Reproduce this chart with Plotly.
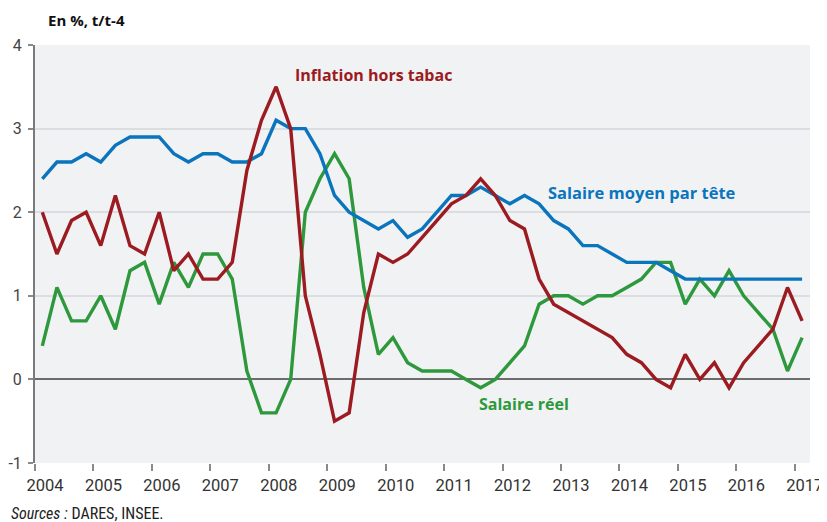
import plotly.graph_objects as go

# ---- data (quarterly, t/t-4, %) ----
years = list(range(2004, 2018))
first_year = 2004
n_quarters = 53  # 2004Q1 .. 2017Q1

salaire_moyen = [2.4, 2.6, 2.6, 2.7, 2.6, 2.8, 2.9, 2.9, 2.9, 2.7, 2.6, 2.7, 2.7, 2.6, 2.6, 2.7,
                 3.1, 3.0, 3.0, 2.7, 2.2, 2.0, 1.9, 1.8, 1.9, 1.7, 1.8, 2.0, 2.2, 2.2, 2.3, 2.2,
                 2.1, 2.2, 2.1, 1.9, 1.8, 1.6, 1.6, 1.5, 1.4, 1.4, 1.4, 1.3, 1.2, 1.2, 1.2, 1.2,
                 1.2, 1.2, 1.2, 1.2, 1.2]
inflation = [2.0, 1.5, 1.9, 2.0, 1.6, 2.2, 1.6, 1.5, 2.0, 1.3, 1.5, 1.2, 1.2, 1.4, 2.5, 3.1,
             3.5, 3.0, 1.0, 0.3, -0.5, -0.4, 0.8, 1.5, 1.4, 1.5, 1.7, 1.9, 2.1, 2.2, 2.4, 2.2,
             1.9, 1.8, 1.2, 0.9, 0.8, 0.7, 0.6, 0.5, 0.3, 0.2, 0.0, -0.1, 0.3, 0.0, 0.2, -0.1,
             0.2, 0.4, 0.6, 1.1, 0.7]
salaire_reel = [0.4, 1.1, 0.7, 0.7, 1.0, 0.6, 1.3, 1.4, 0.9, 1.4, 1.1, 1.5, 1.5, 1.2, 0.1, -0.4,
                -0.4, 0.0, 2.0, 2.4, 2.7, 2.4, 1.1, 0.3, 0.5, 0.2, 0.1, 0.1, 0.1, 0.0, -0.1, 0.0,
                0.2, 0.4, 0.9, 1.0, 1.0, 0.9, 1.0, 1.0, 1.1, 1.2, 1.4, 1.4, 0.9, 1.2, 1.0, 1.3,
                1.0, 0.8, 0.6, 0.1, 0.5]
y_ticks = [-1, 0, 1, 2, 3, 4]

# quarter mid-points
x_q = [first_year + i / 4 + 0.125 for i in range(n_quarters)]

BLUE = "#0a74bd"
RED = "#9b1b21"
GREEN = "#2e983c"

fig = go.Figure()
for name, vals, col in [("Salaire réel", salaire_reel, GREEN),
                        ("Salaire moyen par tête", salaire_moyen, BLUE),
                        ("Inflation hors tabac", inflation, RED)]:
    fig.add_trace(go.Scatter(x=x_q, y=vals, mode="lines", name=name,
                             line=dict(color=col, width=3.4), hoverinfo="skip"))

ann_font = "Open Sans, Noto Sans, sans-serif"
fig.add_annotation(x=2009.80, y=3.64, text="<b>Inflation hors tabac</b>", showarrow=False,
                   font=dict(family=ann_font, size=16, color=RED), xanchor="center", yanchor="middle")
fig.add_annotation(x=2014.38, y=2.23, text="<b>Salaire moyen par tête</b>", showarrow=False,
                   font=dict(family=ann_font, size=16.5, color=BLUE), xanchor="center", yanchor="middle")
fig.add_annotation(x=2012.36, y=-0.30, text="<b>Salaire réel</b>", showarrow=False,
                   font=dict(family=ann_font, size=16, color=GREEN), xanchor="center", yanchor="middle")

# page body has an 8px margin: figure is 819x514, plot area at page x 35..810, y 45..463
fig.add_annotation(xref="paper", yref="paper", x=(46 - 35) / 775, y=(463 - 20) / 418,
                   text="<b>En %, t/t-4</b>", showarrow=False, xanchor="left", yanchor="middle",
                   font=dict(family=ann_font, size=15, color="#111"))
fig.add_annotation(xref="paper", yref="paper", x=(9 - 35) / 775, y=(463 - 514) / 418,
                   text="<i>Sources :</i> DARES, INSEE.", showarrow=False, xanchor="left", yanchor="middle",
                   font=dict(family="Liberation Sans Narrow, Roboto Condensed, Roboto, sans-serif",
                             size=16, color="#222"))

fig.update_layout(
    width=819, height=514, autosize=False,
    margin=dict(l=27, r=17, t=37, b=59, autoexpand=False),
    paper_bgcolor="white", plot_bgcolor="#f1f2f4",
    showlegend=False,
    xaxis=dict(range=[2004, 2017.26], tickvals=years, ticktext=[str(y) for y in years],
               automargin=False,
               ticks="outside", ticklen=7, tickwidth=1.5, tickcolor="#8a8a8a",
               ticklabelshift=10,
               showgrid=False, zeroline=False, showline=False,
               tickfont=dict(family="Roboto, sans-serif", size=16.5, color="#333")),
    yaxis=dict(range=[-1, 4], tickvals=y_ticks, ticktext=[str(v) for v in y_ticks],
               automargin=False,
               ticks="outside", ticklen=5, tickwidth=1.5, tickcolor="#8a8a8a",
               ticklabelstandoff=3,
               showline=True, linecolor="#7a7a7a", linewidth=2,
               showgrid=True, gridcolor="#dcdde0", gridwidth=1.5,
               zeroline=True, zerolinecolor="#6c6c6c", zerolinewidth=2.2,
               tickfont=dict(family="Roboto, sans-serif", size=16, color="#444")),
)

fig.write_html("out.html")
